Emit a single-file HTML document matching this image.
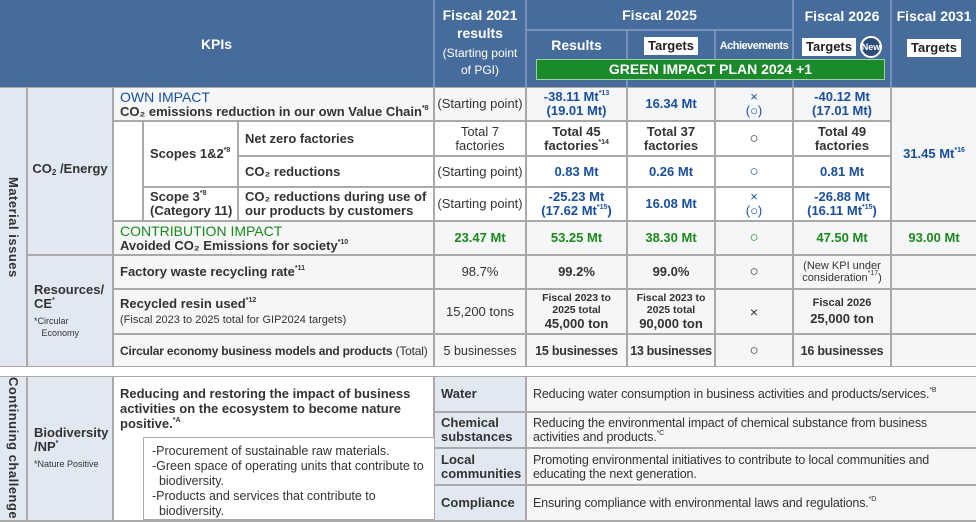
<!DOCTYPE html>
<html><head><meta charset="utf-8"><style>
*{margin:0;padding:0;box-sizing:border-box}
body{width:976px;height:522px;background:#fff;position:relative;overflow:hidden;font-family:"Liberation Sans",Arial,sans-serif;color:#333}
.c{position:absolute;display:flex;align-items:center;justify-content:center;text-align:center;font-size:13px;line-height:14px;background:#f5f6f8}
.h{background:#466c9c;color:#fff;font-weight:bold;font-size:14px;line-height:18px}
.top{align-items:flex-start}
.l{justify-content:flex-start;text-align:left;padding-left:6px}
.b{font-weight:bold}
.cat{background:#e1e8f1;font-weight:bold}
.blue{color:#1a4f9c;font-weight:bold}
.green{color:#1b8a1b;font-weight:bold}
.w{background:#fff}
sup{font-size:7px;vertical-align:6px;line-height:0}
.tag{background:#fff;color:#222;padding:1px 4px;font-size:13px;font-weight:bold;line-height:16px;display:inline-block}
.vt{writing-mode:vertical-rl;font-weight:bold;font-size:13px;letter-spacing:.5px}
.bg{position:absolute;background:#a9a9a9}
.n{font-size:12.5px;letter-spacing:-0.15px}
</style></head><body>
<div class="bg" style="left:0;top:0;width:976px;height:87px;background:#7592bb"></div>
<div class="bg" style="left:0;top:87px;width:976px;height:280px"></div>
<div class="bg" style="left:0;top:376px;width:976px;height:146px"></div>

<!-- header -->
<div class="c h" style="left:0;top:0;width:433px;height:87px"><div>KPIs</div></div>
<div class="c h top" style="left:435px;top:0;width:90px;height:87px;padding-top:6px"><div>Fiscal 2021<br>results<div style="font-weight:normal;font-size:12px;line-height:17px;margin-top:3px">(Starting point<br>of PGI)</div></div></div>
<div class="c h" style="left:527px;top:0;width:265px;height:29px"><div>Fiscal 2025</div></div>
<div class="c h top" style="left:527px;top:31px;width:99px;height:56px;padding-top:5px"><div>Results</div></div>
<div class="c h top" style="left:628px;top:31px;width:86px;height:56px;padding-top:5px"><div><span class="tag">Targets</span></div></div>
<div class="c h top" style="left:716px;top:31px;width:76px;height:56px;padding-top:6px;font-size:11px;letter-spacing:-.5px"><div>Achievements</div></div>
<div class="c h top" style="left:794px;top:0;width:96px;height:87px;padding-top:7px"><div>Fiscal 2026
<div style="display:flex;align-items:center;justify-content:center;margin-top:11px"><span class="tag">Targets</span><span style="display:inline-flex;width:22px;height:22px;border-radius:50%;background:#2b4b7a;border:2px solid #fff;font-size:9px;align-items:center;justify-content:center;margin-left:4px">New</span></div></div></div>
<div class="c h top" style="left:892px;top:0;width:84px;height:87px;padding-top:7px"><div>Fiscal 2031<div style="margin-top:13px"><span class="tag">Targets</span></div></div></div>
<div style="position:absolute;left:536px;top:59px;width:349px;height:21px;background:#1b8a2a;border:1px solid #9fd09f;color:#fff;font-weight:bold;font-size:14px;text-align:center;line-height:19px">GREEN IMPACT PLAN 2024 +1</div>

<!-- material -->
<div class="c cat" style="left:0;top:88px;width:26px;height:278px"><span class="vt">Material issues</span></div>
<div class="c cat" style="left:28px;top:88px;width:84px;height:166px"><div>CO<span style="font-size:8px;vertical-align:-2px">2</span> /Energy</div></div>
<div class="c l b" style="left:114px;top:88px;width:319px;height:32px"><div><span style="color:#1a4f9c;font-weight:normal;font-size:14px">OWN IMPACT</span><br>CO₂ emissions reduction in our own Value Chain<sup>*8</sup></div></div>
<div class="c w" style="left:114px;top:122px;width:28px;height:98px"></div>
<div class="c l b w" style="left:144px;top:122px;width:93px;height:64px"><div>Scopes 1&amp;2<sup>*8</sup></div></div>
<div class="c l b w" style="left:239px;top:122px;width:194px;height:33px"><div>Net zero factories</div></div>
<div class="c l b w" style="left:239px;top:157px;width:194px;height:29px"><div>CO₂ reductions</div></div>
<div class="c l b w" style="left:144px;top:188px;width:93px;height:32px"><div>Scope 3<sup>*8</sup><br>(Category 11)</div></div>
<div class="c l b w" style="left:239px;top:188px;width:194px;height:32px"><div>CO₂ reductions during use of<br>our products by customers</div></div>
<div class="c l b" style="left:114px;top:222px;width:319px;height:32px"><div><span style="color:#1b8a1b;font-weight:normal;font-size:14px">CONTRIBUTION IMPACT</span><br>Avoided CO₂ Emissions for society<sup>*10</sup></div></div>

<!-- row1 -->
<div class="c" style="left:435px;top:88px;width:90px;height:32px"><div>(Starting point)</div></div>
<div class="c blue" style="left:527px;top:88px;width:99px;height:32px"><div>-38.11 Mt<sup>*13</sup><br>(19.01 Mt)</div></div>
<div class="c blue" style="left:628px;top:88px;width:86px;height:32px"><div>16.34 Mt</div></div>
<div class="c blue" style="left:716px;top:88px;width:76px;height:32px;font-weight:normal"><div>×<br>(○)</div></div>
<div class="c blue" style="left:794px;top:88px;width:96px;height:32px"><div>-40.12 Mt<br>(17.01 Mt)</div></div>
<div class="c blue" style="left:892px;top:88px;width:84px;height:132px"><div>31.45 Mt<sup>*16</sup></div></div>
<!-- row2 -->
<div class="c w" style="left:435px;top:122px;width:90px;height:33px"><div>Total 7<br>factories</div></div>
<div class="c w b" style="left:527px;top:122px;width:99px;height:33px"><div>Total 45<br>factories<sup>*14</sup></div></div>
<div class="c w b" style="left:628px;top:122px;width:86px;height:33px"><div>Total 37<br>factories</div></div>
<div class="c w" style="left:716px;top:122px;width:76px;height:33px;font-size:15px"><div>○</div></div>
<div class="c w b" style="left:794px;top:122px;width:96px;height:33px"><div>Total 49<br>factories</div></div>
<!-- row3 -->
<div class="c w" style="left:435px;top:157px;width:90px;height:29px"><div>(Starting point)</div></div>
<div class="c w blue" style="left:527px;top:157px;width:99px;height:29px"><div>0.83 Mt</div></div>
<div class="c w blue" style="left:628px;top:157px;width:86px;height:29px"><div>0.26 Mt</div></div>
<div class="c w blue" style="left:716px;top:157px;width:76px;height:29px;font-size:15px;font-weight:normal"><div>○</div></div>
<div class="c w blue" style="left:794px;top:157px;width:96px;height:29px"><div>0.81 Mt</div></div>
<!-- row4 -->
<div class="c w" style="left:435px;top:188px;width:90px;height:32px"><div>(Starting point)</div></div>
<div class="c w blue" style="left:527px;top:188px;width:99px;height:32px"><div>-25.23 Mt<br>(17.62 Mt<sup>*15</sup>)</div></div>
<div class="c w blue" style="left:628px;top:188px;width:86px;height:32px"><div>16.08 Mt</div></div>
<div class="c w blue" style="left:716px;top:188px;width:76px;height:32px;font-weight:normal"><div>×<br>(○)</div></div>
<div class="c w blue" style="left:794px;top:188px;width:96px;height:32px"><div>-26.88 Mt<br>(16.11 Mt<sup>*15</sup>)</div></div>
<!-- row5 -->
<div class="c green" style="left:435px;top:222px;width:90px;height:32px"><div>23.47 Mt</div></div>
<div class="c green" style="left:527px;top:222px;width:99px;height:32px"><div>53.25 Mt</div></div>
<div class="c green" style="left:628px;top:222px;width:86px;height:32px"><div>38.30 Mt</div></div>
<div class="c green" style="left:716px;top:222px;width:76px;height:32px;font-size:15px;font-weight:normal"><div>○</div></div>
<div class="c green" style="left:794px;top:222px;width:96px;height:32px"><div>47.50 Mt</div></div>
<div class="c green" style="left:892px;top:222px;width:84px;height:32px"><div>93.00 Mt</div></div>

<!-- resources -->
<div class="c cat l" style="left:28px;top:256px;width:84px;height:110px"><div>Resources/<br>CE<sup>*</sup><div style="font-weight:normal;font-size:9px;line-height:12px;margin-top:4px">*Circular<br>&nbsp;&nbsp;&nbsp;Economy</div></div></div>
<div class="c l b" style="left:114px;top:256px;width:319px;height:32px"><div>Factory waste recycling rate<sup>*11</sup></div></div>
<div class="c l b" style="left:114px;top:290px;width:319px;height:43px"><div>Recycled resin used<sup>*12</sup><div style="font-weight:normal;font-size:11px;margin-top:2px">(Fiscal 2023 to 2025 total for GIP2024 targets)</div></div></div>
<div class="c l b" style="left:114px;top:335px;width:319px;height:31px;font-size:12px;letter-spacing:-.2px"><div>Circular economy business models and products <span style="font-weight:normal">(Total)</span></div></div>

<div class="c" style="left:435px;top:256px;width:90px;height:32px"><div>98.7%</div></div>
<div class="c b" style="left:527px;top:256px;width:99px;height:32px"><div>99.2%</div></div>
<div class="c b" style="left:628px;top:256px;width:86px;height:32px"><div>99.0%</div></div>
<div class="c" style="left:716px;top:256px;width:76px;height:32px;font-size:15px"><div>○</div></div>
<div class="c" style="left:794px;top:256px;width:96px;height:32px;font-size:11px;line-height:12px"><div>(New KPI under<br>consideration<sup>*17</sup>)</div></div>
<div class="c" style="left:892px;top:256px;width:84px;height:32px"></div>

<div class="c" style="left:435px;top:290px;width:90px;height:43px"><div>15,200 tons</div></div>
<div class="c b" style="left:527px;top:290px;width:99px;height:43px;font-size:10.5px;line-height:12px"><div>Fiscal 2023 to<br>2025 total<div style="font-size:13px;line-height:16px">45,000 ton</div></div></div>
<div class="c b" style="left:628px;top:290px;width:86px;height:43px;font-size:10.5px;line-height:12px"><div>Fiscal 2023 to<br>2025 total<div style="font-size:13px;line-height:16px">90,000 ton</div></div></div>
<div class="c" style="left:716px;top:290px;width:76px;height:43px;font-size:14px"><div>×</div></div>
<div class="c b" style="left:794px;top:290px;width:96px;height:43px;font-size:11px;line-height:14px"><div>Fiscal 2026<div style="font-size:13px;line-height:17px">25,000 ton</div></div></div>
<div class="c" style="left:892px;top:290px;width:84px;height:43px"></div>

<div class="c" style="left:435px;top:335px;width:90px;height:31px;font-size:12.5px"><div>5 businesses</div></div>
<div class="c b" style="left:527px;top:335px;width:99px;height:31px;font-size:12.5px;letter-spacing:-.2px"><div>15 businesses</div></div>
<div class="c b" style="left:628px;top:335px;width:86px;height:31px;font-size:12.5px;letter-spacing:-.3px;white-space:nowrap"><div>13 businesses</div></div>
<div class="c" style="left:716px;top:335px;width:76px;height:31px;font-size:15px"><div>○</div></div>
<div class="c b" style="left:794px;top:335px;width:96px;height:31px;font-size:12.5px;letter-spacing:-.2px"><div>16 businesses</div></div>
<div class="c" style="left:892px;top:335px;width:84px;height:31px"></div>

<!-- bottom -->
<div class="c cat" style="left:0;top:377px;width:26px;height:143px"><span class="vt">Continuing challenge</span></div>
<div class="c cat l" style="left:28px;top:377px;width:84px;height:143px"><div>Biodiversity<br>/NP<sup>*</sup><div style="font-weight:normal;font-size:9px;margin-top:3px">*Nature Positive</div></div></div>
<div class="c w l b top" style="left:114px;top:377px;width:319px;height:143px;padding-top:9px;line-height:15px"><div>Reducing and restoring the impact of business<br>activities on the ecosystem to become nature<br>positive.<sup>*A</sup></div></div>
<div style="position:absolute;left:143px;top:437px;width:291px;height:83px;border:1px solid #aaa;border-right:none;background:#fff;font-size:12.5px;line-height:15px;padding:6px 0 0 8px;color:#333">
<div>-Procurement of sustainable raw materials.</div>
<div>-Green space of operating units that contribute to<br>&nbsp;&nbsp;biodiversity.</div>
<div>-Products and services that contribute to<br>&nbsp;&nbsp;biodiversity.</div></div>

<div class="c cat l" style="left:435px;top:377px;width:90px;height:34px"><div>Water</div></div>
<div class="c cat l" style="left:435px;top:413px;width:90px;height:34px"><div>Chemical<br>substances</div></div>
<div class="c cat l" style="left:435px;top:449px;width:90px;height:35px"><div>Local<br>communities</div></div>
<div class="c cat l" style="left:435px;top:486px;width:90px;height:34px"><div>Compliance</div></div>
<div class="c l n" style="left:527px;top:377px;width:449px;height:34px"><div>Reducing water consumption in business activities and products/services.<sup>*B</sup></div></div>
<div class="c l n" style="left:527px;top:413px;width:449px;height:34px"><div>Reducing the environmental impact of chemical substance from business<br>activities and products.<sup>*C</sup></div></div>
<div class="c l n" style="left:527px;top:449px;width:449px;height:35px"><div>Promoting environmental initiatives to contribute to local communities and<br>educating the next generation.</div></div>
<div class="c l n" style="left:527px;top:486px;width:449px;height:34px"><div>Ensuring compliance with environmental laws and regulations.<sup>*D</sup></div></div>
</body></html>
